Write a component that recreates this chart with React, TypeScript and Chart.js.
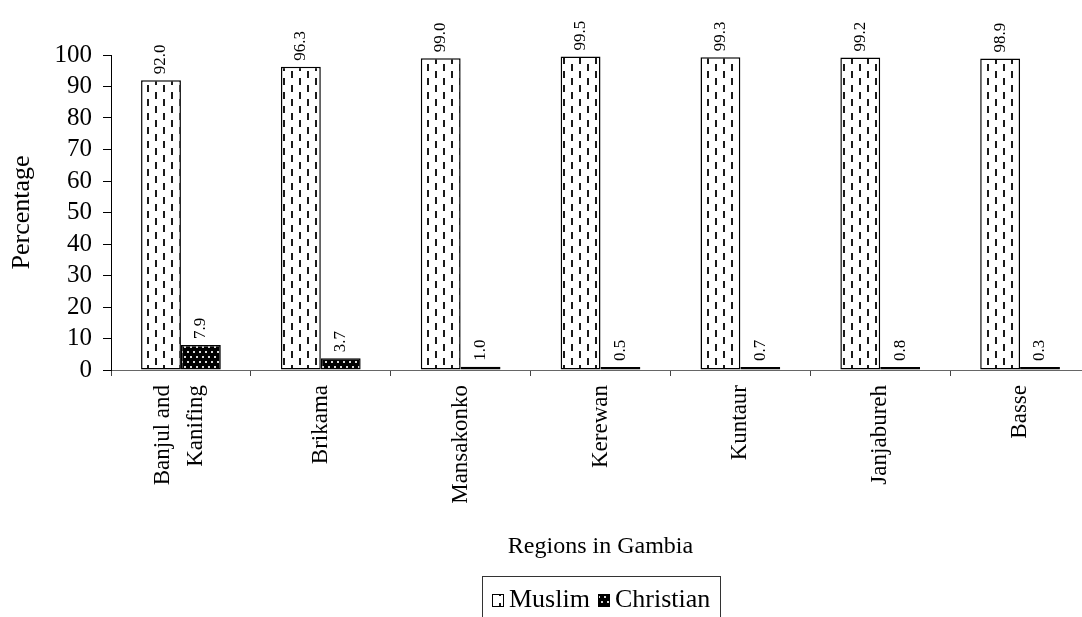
import React, { useEffect, useRef } from "react";
import { Chart, registerables } from "chart.js";

Chart.register(...registerables);

const categories: (string | string[])[] = [
  ["Banjul and", "Kanifing"],
  "Brikama",
  "Mansakonko",
  "Kerewan",
  "Kuntaur",
  "Janjabureh",
  "Basse",
];
const muslim = [92.0, 96.3, 99.0, 99.5, 99.3, 99.2, 98.9];
const christian = [7.9, 3.7, 1.0, 0.5, 0.7, 0.8, 0.3];
const seriesNames = ["Muslim", "Christian"];
const yTicks = [0, 10, 20, 30, 40, 50, 60, 70, 80, 90, 100];

const FONT = "'Liberation Serif', 'Times New Roman', serif";
const W = 1110;
const H = 640;

function makeMuslimPattern(): CanvasPattern | string {
  const c = document.createElement("canvas");
  c.width = 16;
  c.height = 14;
  const g = c.getContext("2d");
  if (!g) return "#fff";
  g.fillStyle = "#ffffff";
  g.fillRect(0, 0, 16, 14);
  g.fillStyle = "#1a1a1a";
  g.fillRect(3, 1, 2, 7);
  g.fillRect(11, 8, 2, 6);
  g.fillRect(11, 0, 2, 1);
  const p = g.createPattern(c, "repeat");
  return p || "#fff";
}

function makeChristianPattern(): CanvasPattern | string {
  const c = document.createElement("canvas");
  c.width = 6;
  c.height = 10;
  const g = c.getContext("2d");
  if (!g) return "#000";
  g.fillStyle = "#000000";
  g.fillRect(0, 0, 6, 10);
  g.fillStyle = "#d8d8d8";
  g.fillRect(1, 1, 2, 2);
  g.fillRect(4, 6, 2, 2);
  const p = g.createPattern(c, "repeat");
  return p || "#000";
}

export default function App() {
  const ref = useRef<HTMLCanvasElement | null>(null);

  useEffect(() => {
    if (!ref.current) return;
    const mPat = makeMuslimPattern();
    const cPat = makeChristianPattern();

    const shiftMultiLine = {
      id: "shiftMultiLine",
      beforeDraw(chart: any) {
        const s = chart.scales.x;
        const items = s.getLabelItems();
        items.forEach((it: any) => {
          if (Array.isArray(it.label) && !it._shifted) {
            it.options.translation[0] -= 18;
            it._shifted = true;
          }
        });
      },
    };

    const valueLabels = {
      id: "valueLabels",
      afterDatasetsDraw(chart: any) {
        const ctx = chart.ctx;
        ctx.save();
        ctx.font = `17px ${FONT}`;
        ctx.fillStyle = "#000";
        ctx.textAlign = "left";
        ctx.textBaseline = "middle";
        chart.data.datasets.forEach((ds: any, di: number) => {
          const meta = chart.getDatasetMeta(di);
          meta.data.forEach((bar: any, i: number) => {
            const v = ds.data[i] as number;
            ctx.save();
            ctx.translate(bar.x, bar.y - 6);
            ctx.rotate(-Math.PI / 2);
            ctx.fillText(v.toFixed(1), 0, 0);
            ctx.restore();
          });
        });
        ctx.restore();
      },
    };

    const boxLegend = {
      id: "boxLegend",
      afterDraw(chart: any) {
        const ctx = chart.ctx;
        ctx.save();
        const bx = 482.5;
        const by = 576.5;
        ctx.strokeStyle = "#333";
        ctx.lineWidth = 1;
        ctx.strokeRect(bx, by, 238, 60);
        ctx.font = `26px ${FONT}`;
        ctx.textBaseline = "alphabetic";
        ctx.textAlign = "left";
        const items = [
          { x: 492, pat: mPat, text: seriesNames[0] },
          { x: 598, pat: cPat, text: seriesNames[1] },
        ];
        items.forEach((it) => {
          ctx.fillStyle = it.pat as any;
          ctx.fillRect(it.x, 594, 11, 12);
          ctx.strokeStyle = "#000";
          ctx.strokeRect(it.x + 0.5, 594.5, 11, 12);
          ctx.fillStyle = "#000";
          ctx.fillText(it.text, it.x + 17, 607);
        });
        ctx.restore();
      },
    };

    const chart = new Chart(ref.current, {
      type: "bar",
      data: {
        labels: categories as any,
        datasets: [
          {
            label: seriesNames[0],
            data: muslim,
            backgroundColor: mPat as any,
            borderColor: "#000",
            borderWidth: 1.5,
            borderSkipped: false,
            categoryPercentage: 0.57,
            barPercentage: 1.0,
          },
          {
            label: seriesNames[1],
            data: christian,
            backgroundColor: cPat as any,
            borderColor: "#000",
            borderWidth: 1.5,
            borderSkipped: false,
            minBarLength: 3,
            categoryPercentage: 0.57,
            barPercentage: 1.0,
          },
        ],
      },
      options: {
        responsive: false,
        animation: false,
        devicePixelRatio: 1,
        layout: { padding: { left: 0, right: 20, top: 55, bottom: 0 } },
        plugins: {
          legend: { display: false },
          tooltip: { enabled: false },
        },
        scales: {
          x: {
            offset: true,
            border: { display: true, color: "#666", width: 1 },
            grid: {
              offset: true,
              drawOnChartArea: false,
              drawTicks: true,
              tickLength: 6,
              color: "#444",
            },
            ticks: {
              color: "#000",
              font: { family: FONT, size: 23, lineHeight: 1.45 },
              maxRotation: 90,
              minRotation: 90,
              padding: 9,
              autoSkip: false,
            },
            title: {
              display: true,
              text: "Regions in Gambia",
              color: "#000",
              font: { family: FONT, size: 24, lineHeight: 1.2 },
              padding: { top: 0, bottom: 78.6 },
            },
            afterFit(scale: any) {
              scale.height = H - 370;
            },
          },
          y: {
            min: 0,
            max: 100,
            border: { display: true, color: "#000", width: 1 },
            grid: {
              drawOnChartArea: false,
              drawTicks: true,
              tickLength: 8,
              color: "#000",
            },
            afterBuildTicks(scale: any) {
              scale.ticks = yTicks.map((v) => ({ value: v }));
            },
            ticks: {
              color: "#000",
              font: { family: FONT, size: 25 },
              padding: 11,
              autoSkip: false,
            },
            title: {
              display: true,
              text: "Percentage",
              color: "#000",
              font: { family: FONT, size: 26, lineHeight: 1.2 },
              padding: { top: 6.4, bottom: 0 },
            },
            afterFit(scale: any) {
              scale.width = 111;
            },
          },
        },
      },
      plugins: [shiftMultiLine, valueLabels, boxLegend],
    });
    return () => chart.destroy();
  }, []);

  return (
    <div
      style={{
        position: "fixed",
        left: 0,
        top: 0,
        width: 1082,
        height: 617,
        overflow: "hidden",
        background: "#fff",
      }}
    >
      <canvas ref={ref} width={W} height={H} style={{ display: "block" }} />
    </div>
  );
}
